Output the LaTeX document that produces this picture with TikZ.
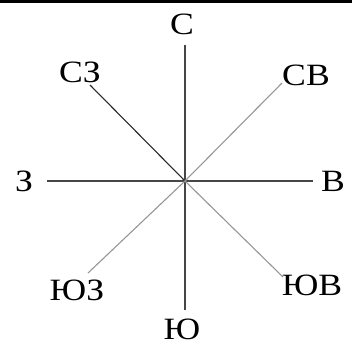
\documentclass[tikz,border=0pt]{standalone}
\usepackage{fontspec}
\setmainfont[FakeStretch=1.15]{Liberation Serif}
\usepackage{xcolor}
\definecolor{cAxis}{RGB}{70,70,70}
\definecolor{cDiag}{RGB}{150,150,150}
\definecolor{cDark}{RGB}{40,40,40}
\tikzset{
	dirlabel/.style={inner sep=0pt, font=\fontsize{31}{34}\selectfont},
	axisline/.style={cAxis, line width=1.1pt},
	diagline/.style={cDiag, line width=1.1pt},
}
\begin{document}
\begin{tikzpicture}[x=1pt, y=1pt]
	\useasboundingbox (-185,-180) rectangle (167,181);
	\fill[black] (-185,177.5) rectangle (167,181);
	\coordinate (o) at (0,0);
	% end points of the rays
	\coordinate (n) at (0,136);
	\coordinate (s) at (0,-129);
	\coordinate (w) at (-138,0);
	\coordinate (e) at (128,0);
	\coordinate (nw) at (-95,96);
	\coordinate (ne) at (97,98);
	\coordinate (sw) at (-97,-92);
	\coordinate (se) at (98,-96);
	\draw[axisline] (n) -- (s);
	\draw[axisline] (w) -- (e);
	\draw[cDark, line width=1.1pt] (o) -- (nw);
	\foreach \d in {ne,sw,se} \draw[diagline] (o) -- (\d);
	% labels
	\node[dirlabel] (lN) at (-3,157) {С};
	\node[dirlabel] (lS) at (-3,-148) {Ю};
	\node[dirlabel] (lW) at (-161,0) {З};
	\node[dirlabel] (lE) at (148,0) {В};
	\node[dirlabel] (lNW) at (-105,109) {СЗ};
	\node[dirlabel] (lNE) at (121,106) {СВ};
	\node[dirlabel] (lSW) at (-108,-109) {ЮЗ};
	\node[dirlabel] (lSE) at (127,-104) {ЮВ};
\end{tikzpicture}
\end{document}
